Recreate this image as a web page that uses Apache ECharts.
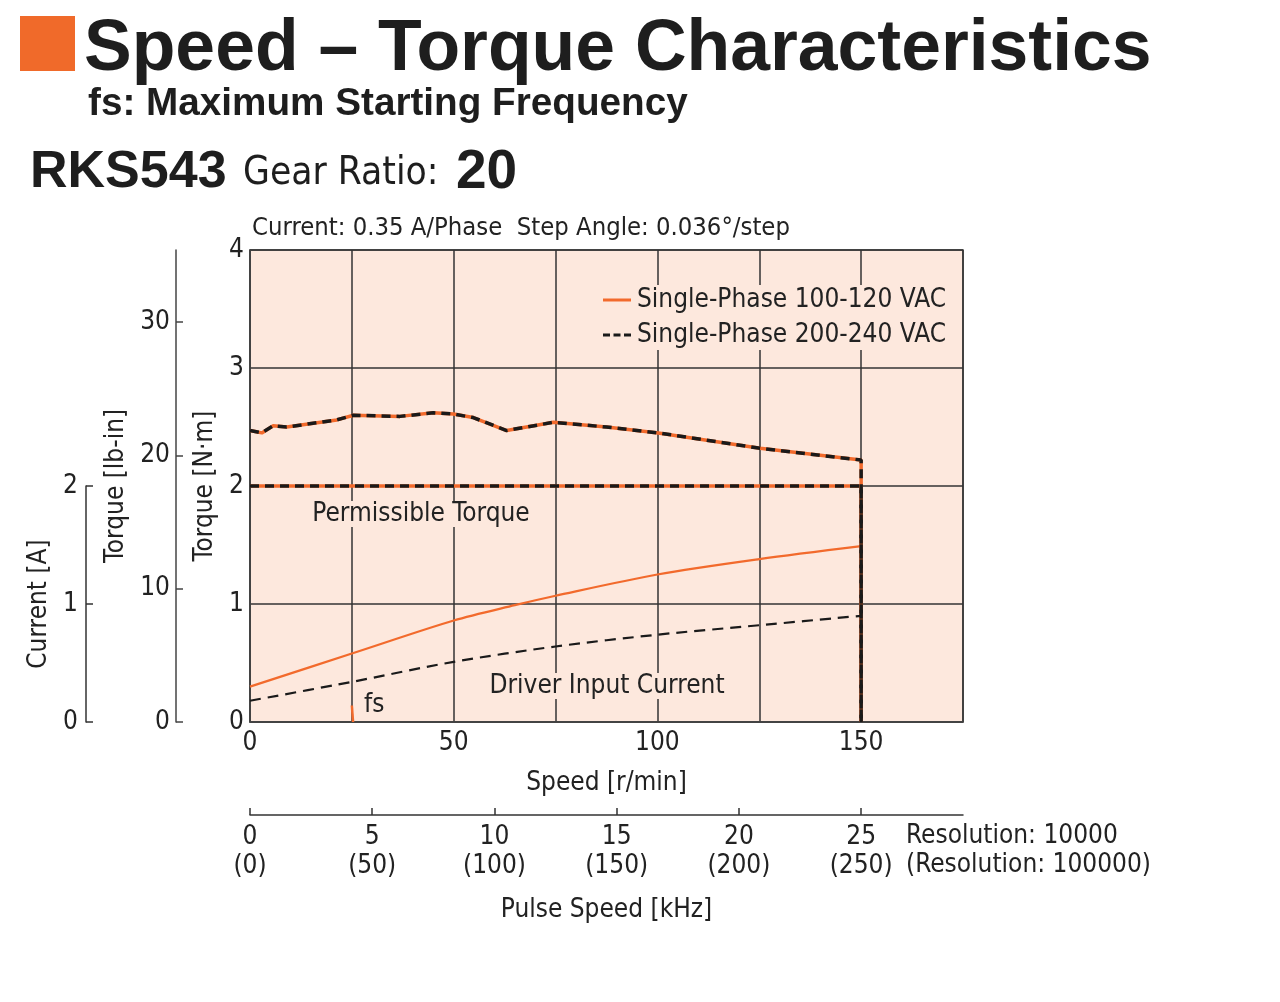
<!DOCTYPE html>
<html>
<head>
<meta charset="utf-8">
<script src="https://cdn.jsdelivr.net/npm/echarts@6/dist/echarts.min.js"></script>
<style>
html,body{margin:0;padding:0;background:#fff;}
#chart{width:1280px;height:1002px;}
</style>
</head>
<body>
<div id="chart"></div>
<script>
// ---- data ----
var speedTicks = [0, 50, 100, 150];
var pulseTicks = [0, 5, 10, 15, 20, 25];
var lbinTicks = [0, 10, 20, 30];

var torqueSpeed = [0, 2.9, 5.7, 9, 21.3, 25.4, 36.8, 45, 49.9, 54.8, 63, 74.5, 87.5, 100.2, 125.2, 150, 150];
var torqueValues = [2.47, 2.45, 2.51, 2.50, 2.56, 2.60, 2.59, 2.62, 2.61, 2.58, 2.47, 2.54, 2.50, 2.45, 2.32, 2.22, 0];

var permSpeed = [0, 150, 150];
var permValues = [2, 2, 0];

var current100Speed = [0, 25, 50, 65, 75, 100, 125, 150];
var current100Values = [0.30, 0.58, 0.86, 0.99, 1.07, 1.25, 1.38, 1.49];

var current200Speed = [0, 25, 50, 75, 100, 125, 150];
var current200Values = [0.18, 0.34, 0.51, 0.64, 0.74, 0.82, 0.90];

var fsSpeed = [25.3, 25];
var fsValues = [0, 0.14];

var seriesNames = ['Single-Phase 100-120 VAC', 'Single-Phase 200-240 VAC'];

// ---- helpers ----
function pairs(xs, ys) { return xs.map(function (x, i) { return [x, ys[i]]; }); }

var ORANGE = '#f26a2c';
var BLACK = '#1a1a1a';
var BG = '#fde8dd';
var GRIDC = '#333333';
var COND = '"Liberation Sans Narrow","DejaVu Sans Condensed","Roboto Condensed",Arial,sans-serif';
var BOLD = '"Liberation Sans",Arial,Helvetica,sans-serif';
var TXT = '#222222';
var FS = 26;
var NM_TO_LBIN = 8.8507;

var chart = echarts.init(document.getElementById('chart'), null, {renderer: 'canvas'});

var option = {
  backgroundColor: '#ffffff',
  animation: false,
  textStyle: {fontFamily: COND, color: TXT},
  grid: [
    {left: 250, top: 250, width: 713, height: 472, show: true, backgroundColor: BG, borderColor: '#444', borderWidth: 1.5},
    {left: 250, top: 486, width: 713, height: 236, show: false}
  ],
  legend: {
    orient: 'vertical',
    left: 600, top: 285,
    data: [
      {name: seriesNames[0], icon: 'path://M0,0H28V3H0Z', itemStyle: {color: ORANGE}},
      {name: seriesNames[1], icon: 'path://M0,0H7V3H0Z M10.5,0H17.5V3H10.5Z M21,0H28V3H21Z', itemStyle: {color: BLACK}}
    ],
    itemWidth: 28, itemHeight: 3, itemGap: 9,
    backgroundColor: BG,
    padding: [2, 6, 2, 3],
    textStyle: {fontFamily: COND, fontSize: FS, color: TXT, padding: [0, 0, 0, 1]}
  },
  xAxis: [
    {
      gridIndex: 0, type: 'value', min: 0, max: 175, interval: 25,
      position: 'bottom',
      name: 'Speed [r/min]', nameLocation: 'middle', nameGap: 48,
      nameTextStyle: {fontFamily: COND, fontSize: FS, color: TXT},
      axisLine: {show: true, onZero: false, lineStyle: {color: '#444', width: 1.5}},
      axisTick: {show: false},
      axisLabel: {
        margin: 8, fontFamily: COND, fontSize: FS, color: TXT,
        formatter: function (v) { return speedTicks.indexOf(v) >= 0 ? String(v) : ''; }
      },
      splitLine: {show: true, lineStyle: {color: GRIDC, width: 1.5}}
    },
    {
      gridIndex: 0, type: 'value', min: 0, max: 175 / 6,
      position: 'bottom', offset: 93,
      name: 'Pulse Speed [kHz]', nameLocation: 'middle', nameGap: 82,
      nameTextStyle: {fontFamily: COND, fontSize: FS, color: TXT},
      axisLine: {show: true, onZero: false, lineStyle: {color: '#333', width: 1.5}},
      axisTick: {show: true, inside: true, length: 7, customValues: pulseTicks, lineStyle: {color: '#333', width: 1.5}},
      axisLabel: {
        margin: 8, fontFamily: COND, fontSize: FS, color: TXT, lineHeight: 29,
        customValues: pulseTicks,
        formatter: function (v) { return v + '\n(' + (v * 10) + ')'; }
      },
      splitLine: {show: false}
    },
    {
      gridIndex: 1, type: 'value', min: 0, max: 175, show: false
    }
  ],
  yAxis: [
    {
      gridIndex: 0, type: 'value', min: 0, max: 4, interval: 1,
      position: 'left',
      name: 'Torque [N·m]', nameLocation: 'middle', nameGap: 22, nameRotate: 90,
      nameTextStyle: {fontFamily: COND, fontSize: FS, color: TXT},
      axisLine: {show: true, onZero: false, lineStyle: {color: '#444', width: 1.5}},
      axisTick: {show: false},
      axisLabel: {margin: 6, fontFamily: COND, fontSize: FS, color: TXT, padding: [9, 0, 0, 0]},
      splitLine: {show: true, lineStyle: {color: GRIDC, width: 1.5}}
    },
    {
      gridIndex: 0, type: 'value', min: 0, max: 4 * NM_TO_LBIN,
      position: 'left', offset: 74,
      name: 'Torque [lb-in]', nameLocation: 'middle', nameGap: 38, nameRotate: 90,
      nameTextStyle: {fontFamily: COND, fontSize: FS, color: TXT},
      axisLine: {show: true, onZero: false, lineStyle: {color: '#444', width: 1.5}},
      axisTick: {show: true, inside: true, length: 7, customValues: lbinTicks, lineStyle: {color: '#444', width: 1.5}},
      axisLabel: {margin: 6, fontFamily: COND, fontSize: FS, color: TXT, customValues: lbinTicks},
      splitLine: {show: false}
    },
    {
      gridIndex: 1, type: 'value', min: 0, max: 2, interval: 1,
      position: 'left', offset: 164,
      name: 'Current [A]', nameLocation: 'middle', nameGap: 23, nameRotate: 90,
      nameTextStyle: {fontFamily: COND, fontSize: FS, color: TXT},
      axisLine: {show: true, onZero: false, lineStyle: {color: '#333', width: 1.5}},
      axisTick: {show: true, inside: true, length: 7, lineStyle: {color: '#333', width: 1.5}},
      axisLabel: {margin: 8, fontFamily: COND, fontSize: FS, color: TXT},
      splitLine: {show: false}
    }
  ],
  series: [
    {
      name: seriesNames[0], type: 'line', xAxisIndex: 0, yAxisIndex: 0,
      data: pairs(torqueSpeed, torqueValues), symbol: 'none', z: 3,
      lineStyle: {color: ORANGE, width: 3.5}, itemStyle: {color: ORANGE}
    },
    {
      name: seriesNames[0], type: 'line', xAxisIndex: 0, yAxisIndex: 0,
      data: pairs(permSpeed, permValues), symbol: 'none', z: 3,
      lineStyle: {color: ORANGE, width: 3.5}, itemStyle: {color: ORANGE}
    },
    {
      name: seriesNames[1], type: 'line', xAxisIndex: 0, yAxisIndex: 0,
      data: pairs(torqueSpeed, torqueValues), symbol: 'none', z: 4,
      lineStyle: {color: BLACK, width: 3.5, type: [9, 6]}, itemStyle: {color: BLACK}
    },
    {
      name: seriesNames[1], type: 'line', xAxisIndex: 0, yAxisIndex: 0,
      data: pairs(permSpeed, permValues), symbol: 'none', z: 4,
      lineStyle: {color: BLACK, width: 3.5, type: [9, 6]}, itemStyle: {color: BLACK}
    },
    {
      name: seriesNames[0], type: 'line', xAxisIndex: 2, yAxisIndex: 2,
      data: pairs(current100Speed, current100Values), symbol: 'none', smooth: 0.3, z: 3,
      lineStyle: {color: ORANGE, width: 2.2}, itemStyle: {color: ORANGE}
    },
    {
      name: seriesNames[1], type: 'line', xAxisIndex: 2, yAxisIndex: 2,
      data: pairs(current200Speed, current200Values), symbol: 'none', smooth: 0.3, z: 3,
      lineStyle: {color: BLACK, width: 2.2, type: [11, 7]}, itemStyle: {color: BLACK}
    },
    {
      name: 'fs', type: 'line', xAxisIndex: 0, yAxisIndex: 0,
      data: pairs(fsSpeed, fsValues), symbol: 'none', z: 3,
      lineStyle: {color: ORANGE, width: 2.5}
    }
  ],
  graphic: [
    {type: 'rect', left: 20, top: 16, shape: {width: 55, height: 55}, style: {fill: '#f06a2a'}},
    {type: 'text', x: 84, y: 50, style: {text: 'Speed – Torque Characteristics', fontFamily: BOLD, fontWeight: 'bold', fontSize: 71.5, fill: '#1e1e1e', textVerticalAlign: 'middle'}},
    {type: 'text', x: 88, y: 104, style: {text: 'fs: Maximum Starting Frequency', fontFamily: BOLD, fontWeight: 'bold', fontSize: 38.7, fill: '#1e1e1e', textVerticalAlign: 'middle'}},
    {type: 'text', x: 30, y: 173, style: {text: 'RKS543', fontFamily: BOLD, fontWeight: 'bold', fontSize: 52, fill: '#1e1e1e', textVerticalAlign: 'middle'}},
    {type: 'text', x: 243, y: 174, style: {text: 'Gear Ratio:', fontFamily: COND, fontSize: 38.6, fill: '#1e1e1e', textVerticalAlign: 'middle'}},
    {type: 'text', x: 456, y: 173, style: {text: '20', fontFamily: BOLD, fontWeight: 'bold', fontSize: 55, fill: '#1e1e1e', textVerticalAlign: 'middle'}},
    {type: 'text', x: 252, y: 228, style: {text: 'Current: 0.35 A/Phase  Step Angle: 0.036°/step', fontFamily: COND, fontSize: 25.4, fill: TXT, textVerticalAlign: 'middle'}},
    {type: 'text', x: 421, y: 514, z: 10, style: {text: 'Permissible Torque', fontFamily: COND, fontSize: FS, fill: TXT, textAlign: 'center', textVerticalAlign: 'middle', backgroundColor: BG, padding: [0, 3]}},
    {type: 'text', x: 607, y: 686, z: 10, style: {text: 'Driver Input Current', fontFamily: COND, fontSize: FS, fill: TXT, textAlign: 'center', textVerticalAlign: 'middle', backgroundColor: BG, padding: [0, 3]}},
    {type: 'text', x: 364, y: 705, z: 10, style: {text: 'fs', fontFamily: COND, fontSize: FS, fill: TXT, textVerticalAlign: 'middle'}},
    {type: 'text', x: 906, y: 836, style: {text: 'Resolution: 10000', fontFamily: COND, fontSize: FS, fill: TXT, textVerticalAlign: 'middle'}},
    {type: 'text', x: 906, y: 865, style: {text: '(Resolution: 100000)', fontFamily: COND, fontSize: FS, fill: TXT, textVerticalAlign: 'middle'}}
  ]
};
chart.setOption(option);
</script>
</body>
</html>
